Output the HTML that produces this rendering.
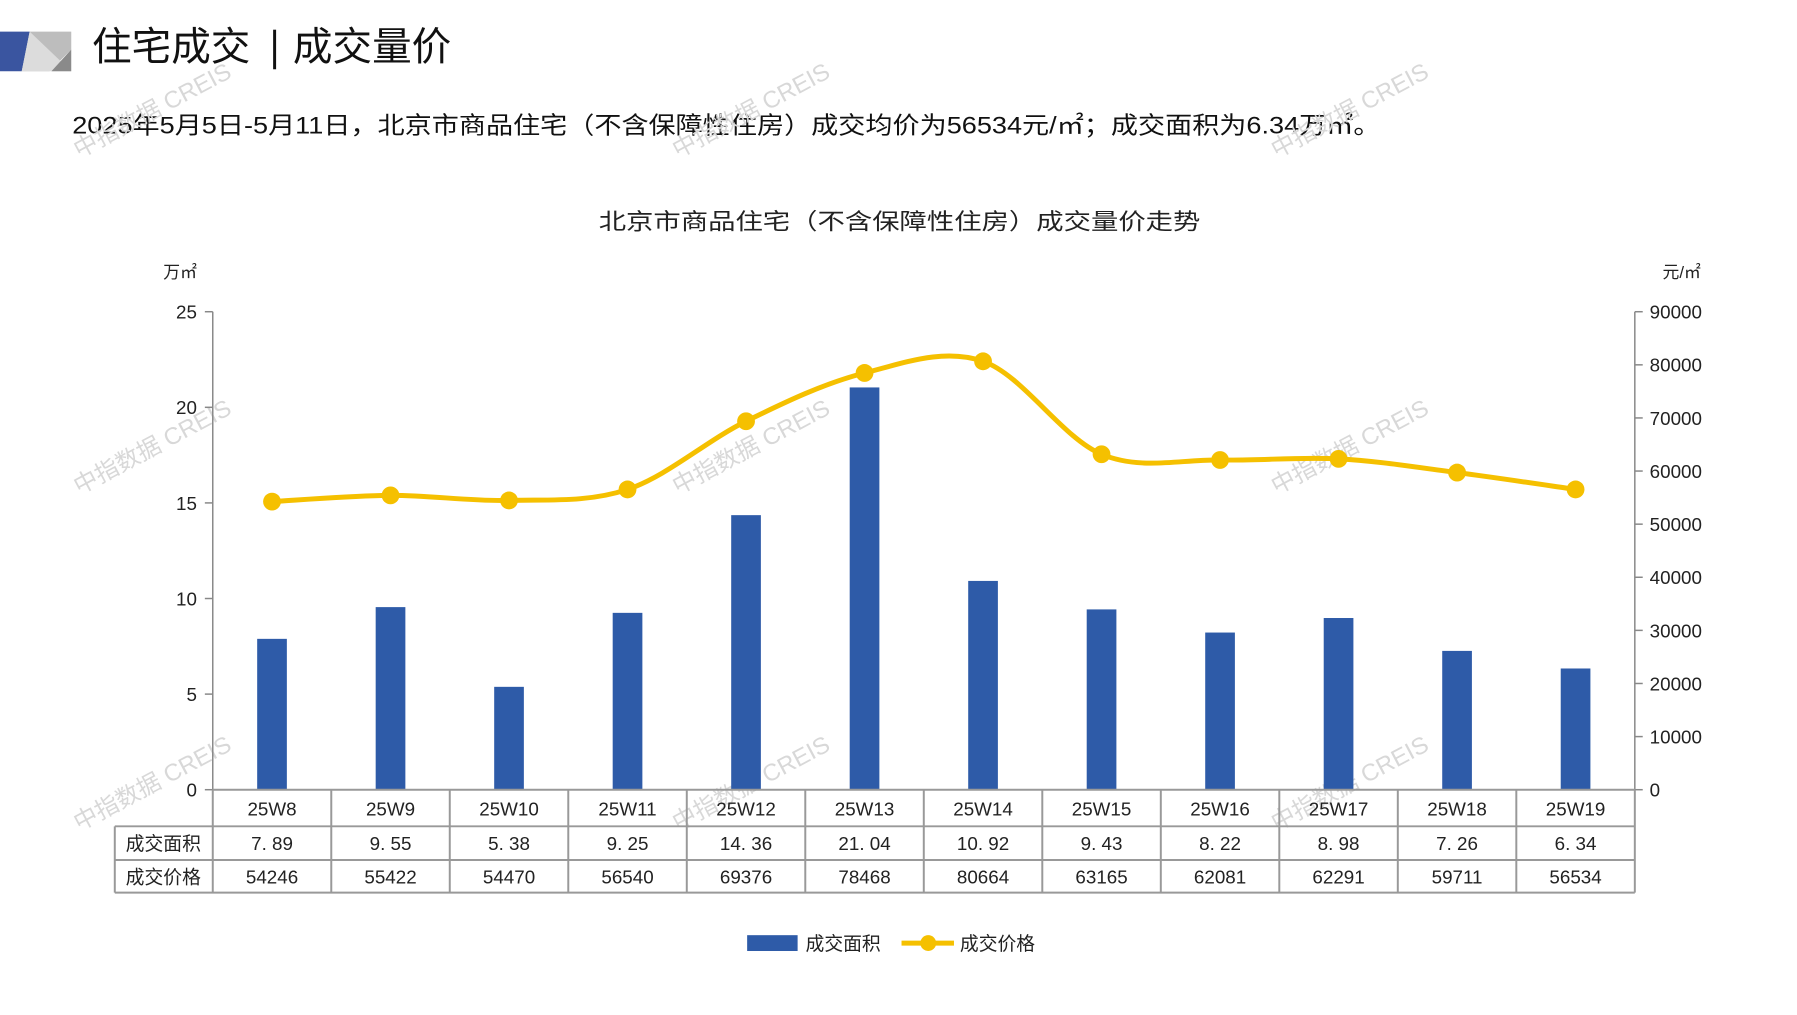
<!DOCTYPE html>
<html><head><meta charset="utf-8"><style>
html,body{margin:0;padding:0;background:#fff;}
svg text{font-family:"Liberation Sans","Noto Sans CJK SC",sans-serif;}
</style></head><body>
<svg id="s" width="1797" height="1010" viewBox="0 0 1797 1010" xmlns="http://www.w3.org/2000/svg">
<rect width="1797" height="1010" fill="#fff"/>
<g transform="scale(0.9896)">
<polygon points="0,32 30,32 22,72 0,72" fill="#3A55A0"/>
<polygon points="30,32 72,32 72,50 50,72 22,72" fill="#bdbdbd"/>
<polygon points="30,32 72,72 22,72" fill="#dcdcdc"/>
<polygon points="72,50 72,72 52,72" fill="#8a8a8a"/>
<text x="93" y="61" font-size="40" fill="#111" font-family="'Noto Serif CJK SC',serif">住宅成交</text>
<rect x="276" y="30" width="3" height="40" fill="#111"/>
<text x="296" y="61" font-size="40" fill="#111" font-family="'Noto Serif CJK SC',serif">成交量价</text>
<text x="73" y="135" font-size="24" fill="#111" textLength="1322" lengthAdjust="spacingAndGlyphs" font-family="'Liberation Sans','Noto Serif CJK SC',serif">2025年5月5日-5月11日，北京市商品住宅（不含保障性住房）成交均价为56534元/㎡；成交面积为6.34万㎡。</text>
<text x="909" y="232" font-size="23" fill="#222" text-anchor="middle" textLength="608" lengthAdjust="spacingAndGlyphs" font-family="'Noto Serif CJK SC',serif">北京市商品住宅（不含保障性住房）成交量价走势</text>
<text x="165" y="281" font-size="17" fill="#222">万㎡</text>
<text x="1680" y="281" font-size="17" fill="#222">元/㎡</text>
<g id="g"></g>
<rect x="755" y="945" width="51" height="16" fill="#2E5BA8"/>
<text x="814" y="960" font-size="19" fill="#222" font-family="'Noto Serif CJK SC',serif">成交面积</text>
<line x1="911" y1="953" x2="964" y2="953" stroke="#F5C000" stroke-width="5"/>
<circle cx="938" cy="953" r="8" fill="#F5C000"/>
<text x="970" y="960" font-size="19" fill="#222" font-family="'Noto Serif CJK SC',serif">成交价格</text>
</g>
</svg>
<script>
var g=document.getElementById('g'),h='';
var L=215,R=1652,T=315,B=798,cw=(R-L)/12;
var w=['25W8','25W9','25W10','25W11','25W12','25W13','25W14','25W15','25W16','25W17','25W18','25W19'];
var a=['7.89','9.55','5.38','9.25','14.36','21.04','10.92','9.43','8.22','8.98','7.26','6.34'];
var p=[54246,55422,54470,56540,69376,78468,80664,63165,62081,62291,59711,56534];
var wm=[[80,160],[685,160],[1290,160],[80,500],[685,500],[1290,500],[80,840],[685,840],[1290,840]];
wm.forEach(function(q){h+='<text x="'+q[0]+'" y="'+q[1]+'" font-size="24" fill="#d8d8d8" transform="rotate(-28 '+q[0]+' '+q[1]+')">中指数据 CREIS</text>';});
for(var i=0;i<=5;i++){var y=B-i*(B-T)/5;h+='<line x1="'+(L-8)+'" y1="'+y+'" x2="'+L+'" y2="'+y+'" stroke="#888" stroke-width="1.5"/>';h+='<text x="199" y="'+(y+7)+'" font-size="19" fill="#222" text-anchor="end">'+(i*5)+'</text>';}
for(var i=0;i<=9;i++){var y=B-i*(B-T)/9;h+='<line x1="'+R+'" y1="'+y+'" x2="'+(R+8)+'" y2="'+y+'" stroke="#888" stroke-width="1.5"/>';h+='<text x="1667" y="'+(y+7)+'" font-size="19" fill="#222">'+(i*10000)+'</text>';}
h+='<line x1="'+L+'" y1="'+T+'" x2="'+L+'" y2="'+B+'" stroke="#888" stroke-width="1.5"/>';
h+='<line x1="'+R+'" y1="'+T+'" x2="'+R+'" y2="'+B+'" stroke="#888" stroke-width="1.5"/>';
var pts=[];
for(var i=0;i<12;i++){var cx=L+cw*(i+0.5);var v=parseFloat(a[i]);var bh=v*(B-T)/25;h+='<rect x="'+(cx-15)+'" y="'+(B-bh)+'" width="30" height="'+bh+'" fill="#2E5BA8"/>';pts.push([cx,B-p[i]/90000*(B-T)]);}
var d='M'+pts[0][0]+','+pts[0][1];
for(var i=0;i<11;i++){var p0=pts[Math.max(i-1,0)],p1=pts[i],p2=pts[i+1],p3=pts[Math.min(i+2,11)];
d+=' C'+(p1[0]+(p2[0]-p0[0])/6)+','+(p1[1]+(p2[1]-p0[1])/6)+' '+(p2[0]-(p3[0]-p1[0])/6)+','+(p2[1]-(p3[1]-p1[1])/6)+' '+p2[0]+','+p2[1];}
h+='<path d="'+d+'" fill="none" stroke="#F5C000" stroke-width="5"/>';
pts.forEach(function(q){h+='<circle cx="'+q[0]+'" cy="'+q[1]+'" r="9" fill="#F5C000"/>';});
var r1=835,r2=869,r3=902,TL=116,c='#999';
h+='<line x1="'+L+'" y1="'+B+'" x2="'+R+'" y2="'+B+'" stroke="'+c+'" stroke-width="2"/>';
[r1,r2,r3].forEach(function(y){h+='<line x1="'+TL+'" y1="'+y+'" x2="'+R+'" y2="'+y+'" stroke="'+c+'" stroke-width="2"/>';});
h+='<line x1="'+TL+'" y1="'+r1+'" x2="'+TL+'" y2="'+r3+'" stroke="'+c+'" stroke-width="2"/>';
for(var i=0;i<=12;i++){var x=L+cw*i;h+='<line x1="'+x+'" y1="'+B+'" x2="'+x+'" y2="'+r3+'" stroke="'+c+'" stroke-width="2"/>';}
var sf=" font-family=\"'Noto Serif CJK SC',serif\"";
h+='<text x="165" y="859" font-size="19" fill="#222" text-anchor="middle"'+sf+'>成交面积</text>';
h+='<text x="165" y="893" font-size="19" fill="#222" text-anchor="middle"'+sf+'>成交价格</text>';
for(var i=0;i<12;i++){var cx=L+cw*(i+0.5);
h+='<text x="'+cx+'" y="824" font-size="19" fill="#222" text-anchor="middle">'+w[i]+'</text>';
h+='<text x="'+cx+'" y="859" font-size="19" fill="#222" text-anchor="middle">'+a[i].replace('.','. ')+'</text>';
h+='<text x="'+cx+'" y="893" font-size="19" fill="#222" text-anchor="middle">'+p[i]+'</text>';}
g.innerHTML=h;
</script>
</body></html>
